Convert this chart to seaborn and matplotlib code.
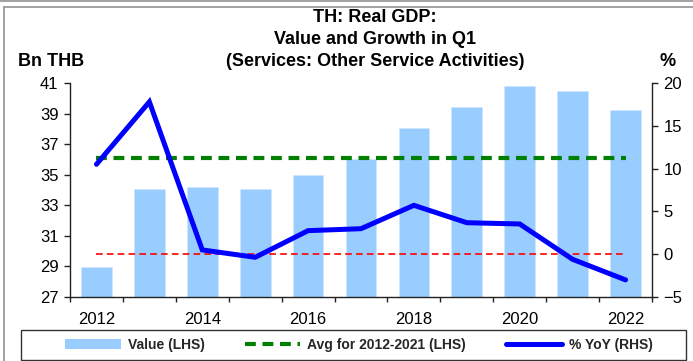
import numpy as np
import pandas as pd
import matplotlib
matplotlib.use("Agg")
import matplotlib.pyplot as plt
from matplotlib.lines import Line2D
from matplotlib.patches import Patch, Rectangle
import seaborn as sns

# Q1 real GDP, other service activities
years = [2012, 2013, 2014, 2015, 2016, 2017, 2018, 2019, 2020, 2021, 2022]
value_bn_thb = [28.95, 34.07, 34.22, 34.05, 34.98, 36.0, 38.04, 39.41, 40.8, 40.5, 39.23]
yoy_pct = [10.5, 17.8, 0.5, -0.36, 2.75, 2.98, 5.71, 3.68, 3.53, -0.6, -3.0]
avg_years = (2012, 2021)

lhs_ticks = [27, 29, 31, 33, 35, 37, 39, 41]
rhs_ticks = [-5, 0, 5, 10, 15, 20]
xtick_years = [2012, 2014, 2016, 2018, 2020, 2022]

df = pd.DataFrame({"year": years, "value": value_bn_thb, "yoy": yoy_pct})
df["pos"] = np.arange(len(df))
avg_value = df.loc[df["year"].between(*avg_years), "value"].mean()

sns.set_theme(style="white")
plt.rcParams["font.family"] = ["Liberation Sans", "DejaVu Sans"]

W, H = 693, 361
fig = plt.figure(figsize=(W / 100, H / 100), dpi=100)
ax = fig.add_axes([70 / W, 1 - 297 / H, (652 - 70) / W, (297 - 83) / H])

BAR = "#99CCFF"
sns.barplot(data=df, x="pos", y="value", color=BAR, saturation=1, width=0.58,
            edgecolor="#CFE6FF", linewidth=0.6, ax=ax, native_scale=True)
ax.set_ylim(27, 41)
ax.set_xlim(-0.5, len(df) - 0.5)

# 2012-2021 average on the LHS scale
ax.plot([df["pos"].iloc[0], df["pos"].iloc[-1]], [avg_value, avg_value],
        color="#008000", lw=3.0, dashes=(2.6, 1.6), zorder=3)

ax2 = ax.twinx()
ax2.set_ylim(-5, 20)
ax2.plot([df["pos"].iloc[0], df["pos"].iloc[-1]], [0, 0], color="#FF0000",
         lw=1.2, dashes=(4, 2.5), zorder=2)
sns.lineplot(data=df, x="pos", y="yoy", color="#0000FF", lw=3.6, ax=ax2,
             zorder=4, solid_joinstyle="miter")

# axes styling
for a in (ax, ax2):
    a.set_xlabel("")
    a.set_ylabel("")
    a.spines["top"].set_visible(False)
    for s in ("left", "right", "bottom"):
        a.spines[s].set_color("#222222")
        a.spines[s].set_linewidth(1.0)
ax.spines["right"].set_visible(False)
ax2.spines["left"].set_visible(False)
ax2.spines["bottom"].set_visible(False)

ax.set_yticks(lhs_ticks)
ax.tick_params(axis="y", direction="out", length=4.3, width=1, pad=4,
               labelsize=12, colors="#222222", labelcolor="black", left=True)
ax2.set_yticks(rhs_ticks)
ax2.tick_params(axis="y", direction="out", length=4.3, width=1, pad=4,
                labelsize=12, colors="#222222", labelcolor="black", right=True)

pos_of = dict(zip(df["year"], df["pos"]))
ax.set_xticks([pos_of[y] for y in xtick_years])
ax.set_xticklabels([str(y) for y in xtick_years])
ax.tick_params(axis="x", which="major", length=0, pad=11, labelsize=12,
               labelcolor="black")
ax.set_xticks(np.arange(len(df) + 1) - 0.5, minor=True)
ax.tick_params(axis="x", which="minor", direction="out", length=3.6, width=1,
               color="#222222", bottom=True)
ax.grid(False)
ax2.grid(False)

# titles
title_lines = ["TH: Real GDP:", "Value and Growth in Q1",
               "(Services: Other Service Activities)"]
for i, line in enumerate(title_lines):
    fig.text(375 / W, 1 - (17 + 22 * i) / H, line, ha="center", va="center",
             fontsize=13, fontweight="bold", color="black")
fig.text(18 / W, 1 - 62 / H, "Bn THB", ha="left", va="center", fontsize=13,
         fontweight="bold", color="black")
fig.text(676 / W, 1 - 62 / H, "%", ha="right", va="center", fontsize=13,
         fontweight="bold", color="black")

# legend
handles = [
    Patch(facecolor=BAR, edgecolor="none"),
    Line2D([], [], color="#008000", lw=3.0, dashes=(2.6, 1.6)),
    Line2D([], [], color="#0000FF", lw=3.6),
]
labels = ["Value (LHS)", "Avg for 2012-2021 (LHS)", "% YoY (RHS)"]
fig.legend(handles, labels, loc="center", bbox_to_anchor=(359 / W, 1 - 345 / H),
           ncol=3, frameon=False, prop={"weight": "bold", "size": 10},
           handlelength=4.0, handletextpad=0.5, columnspacing=2.9,
           handleheight=0.7)
fig.patches.append(Rectangle((21 / W, 1 - 360 / H), (686 - 21) / W, 30 / H,
                             transform=fig.transFigure, fill=False,
                             edgecolor="#333333", lw=1.0))

# outer frame
frame_kw = dict(color="#9A9A9A", lw=1.3, transform=fig.transFigure)
fig.add_artist(Line2D([0, 1], [1 - 1 / H, 1 - 1 / H], **frame_kw))
fig.add_artist(Line2D([3.5 / W, 1], [1 - 7 / H, 1 - 7 / H], **frame_kw))
fig.add_artist(Line2D([3.5 / W, 3.5 / W], [0, 1 - 7 / H], **frame_kw))

fig.savefig("out.png", dpi=100)
